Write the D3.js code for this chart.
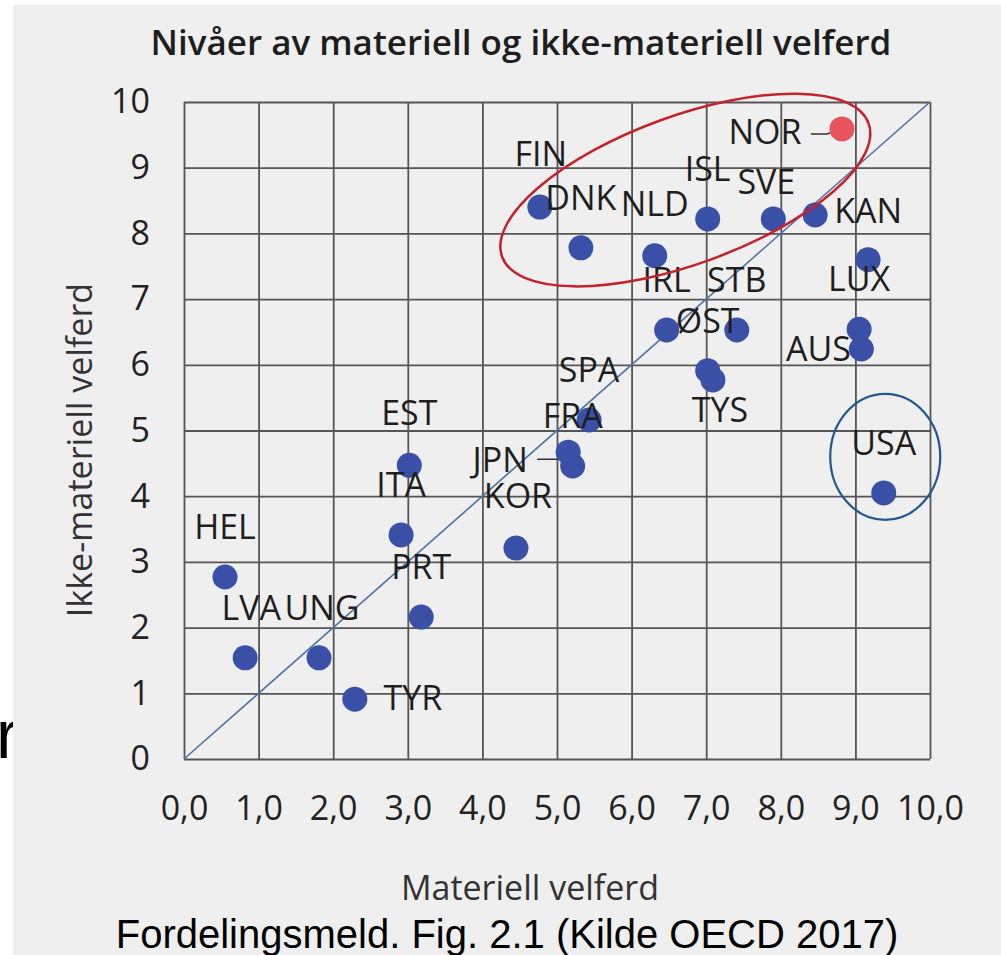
<!DOCTYPE html>
<html>
<head>
<meta charset="utf-8">
<script src="https://cdn.jsdelivr.net/npm/d3@7"></script>
<style>
  body { margin: 0; background: #fff; }
  svg { display: block; }
  .grid line { stroke: #555; stroke-width: 1.8; }
  .grid text { font-family: "Open Sans", sans-serif; font-size: 34px; fill: #222; }
  .lbl { font-family: "Open Sans", sans-serif; font-size: 34px; fill: #1e1e1e; }
</style>
</head>
<body>
<script>
// OECD: materiell vs ikke-materiell velferd (score 0-10)
var codes = ["HEL","LVA","UNG","TYR","ITA","EST","PRT","KOR","JPN","FRA","SPA",
             "FIN","DNK","NLD","ISL","SVE","KAN","NOR","","LUX","IRL","STB","ØST","TYS","AUS","USA"];
var materiell = [0.55,0.82,1.81,2.29,2.91,3.02,3.18,4.45,5.15,5.21,5.43,
                 4.77,5.32,6.31,7.02,7.90,8.46,8.82,9.17,9.05,6.47,7.41,7.02,7.09,9.08,9.38];
var ikkeMateriell = [2.77,1.54,1.54,0.91,3.41,4.47,2.16,3.21,4.67,4.46,5.16,
                     8.40,7.78,7.66,8.22,8.22,8.28,9.59,7.60,6.54,6.53,6.53,5.91,5.77,6.24,4.05];
var xTicks = [0,1,2,3,4,5,6,7,8,9,10];
var yTicks = [0,1,2,3,4,5,6,7,8,9,10];
var xTickLabels = ["0,0","1,0","2,0","3,0","4,0","5,0","6,0","7,0","8,0","9,0","10,0"];
var yTickLabels = ["0","1","2","3","4","5","6","7","8","9","10"];

// label placement (pixels from point), default is centred above
var labelOffset = {
  "TYR": [58, 11], "SVE": [-7, -25], "KAN": [53, 8], "NOR": [-77, 15],
  "TYS": [7, 42], "AUS": [-43, 12], "JPN": [-68, 20], "EST": [0, -40],
  "FIN": [1, -41], "KOR": [2, -40], "NLD": [0, -40], "LVA": [6, -38], "UNG": [3, -38]
};

var W = 1001, H = 955;
var x = d3.scaleLinear().domain([0,10]).range([184,930]);
var y = d3.scaleLinear().domain([0,10]).range([759,102]);

var svg = d3.select("body").append("svg").attr("width",W).attr("height",H);

// stray slide letter on the left edge
svg.append("text").attr("x",-4).attr("y",758)
  .style("font-family","'Liberation Sans', Arial, sans-serif").style("font-size","68px")
  .text("r");
svg.append("rect").attr("x",13).attr("y",5).attr("width",W-13).attr("height",H-5).attr("fill","#efefef");

svg.append("text").attr("x",521).attr("y",55).attr("text-anchor","middle")
  .style("font-family","'Open Sans', sans-serif").style("font-size","35px").style("font-weight","600")
  .style("fill","#1e1e1e")
  .text("Nivåer av materiell og ikke-materiell velferd");

var gx = svg.append("g").attr("class","grid").attr("transform","translate(0,"+y(0)+")")
  .call(d3.axisBottom(x).tickValues(xTicks).tickSize(-(y(0)-y(10))).tickPadding(37)
    .tickFormat(function(d,i){ return xTickLabels[i]; }));
var gy = svg.append("g").attr("class","grid").attr("transform","translate("+x(0)+",0)")
  .call(d3.axisLeft(y).tickValues(yTicks).tickSize(-(x(10)-x(0))).tickPadding(34)
    .tickFormat(function(d,i){ return yTickLabels[i]; }));
svg.selectAll(".grid .domain").remove();

// 45 degree line
svg.append("line").attr("x1",x(0)).attr("y1",y(0)).attr("x2",x(10)).attr("y2",y(10))
  .attr("stroke","#4f73a6").attr("stroke-width",1.6);

svg.append("text").attr("x",530).attr("y",900).attr("text-anchor","middle")
  .style("font-family","'Open Sans', sans-serif").style("font-size","34px").style("fill","#333")
  .text("Materiell velferd");
svg.append("text").attr("transform","translate(92,450) rotate(-90)").attr("text-anchor","middle")
  .style("font-family","'Open Sans', sans-serif").style("font-size","34px").style("fill","#333")
  .text("Ikke-materiell velferd");

var pts = codes.map(function(c,i){ return {code:c, mx:materiell[i], im:ikkeMateriell[i]}; });

// leader lines
var nor = pts[codes.indexOf("NOR")], jpn = pts[codes.indexOf("JPN")];
svg.append("path").attr("fill","none").attr("stroke","#333").attr("stroke-width",1.5)
  .attr("d","M"+(x(nor.mx)-31)+","+(y(nor.im)+5)+"L"+(x(nor.mx)-15)+","+(y(nor.im)+5)+"L"+(x(nor.mx)-4)+","+(y(nor.im)+1));
svg.append("path").attr("fill","none").attr("stroke","#333").attr("stroke-width",1.5)
  .attr("d","M"+(x(jpn.mx)-31)+","+(y(jpn.im)+7)+"L"+(x(jpn.mx)-10)+","+(y(jpn.im)+7)+"L"+(x(jpn.mx)-4)+","+(y(jpn.im)+1));

svg.append("g").selectAll("circle").data(pts).enter().append("circle")
  .attr("cx",function(d){ return x(d.mx); })
  .attr("cy",function(d){ return y(d.im); })
  .attr("r",12.5)
  .attr("fill",function(d){ return d.code=="NOR" ? "#e8545c" : "#3a50a7"; });

svg.append("g").selectAll("text").data(pts.filter(function(d){ return d.code!=""; })).enter().append("text")
  .attr("class","lbl").attr("text-anchor","middle")
  .attr("x",function(d){ var o = labelOffset[d.code] || [0,-38]; return x(d.mx)+o[0]; })
  .attr("y",function(d){ var o = labelOffset[d.code] || [0,-38]; return y(d.im)+o[1]; })
  .text(function(d){ return d.code; });

// highlight rings
svg.append("ellipse").attr("transform","translate("+x(6.72)+","+y(8.66)+") rotate(-20)")
  .attr("rx",195).attr("ry",74).attr("fill","none").attr("stroke","#c4232b").attr("stroke-width",2.5);
svg.append("ellipse").attr("cx",x(9.4)).attr("cy",y(4.6)).attr("rx",55).attr("ry",63)
  .attr("fill","none").attr("stroke","#23588f").attr("stroke-width",2.2);

svg.append("text").attr("x",507).attr("y",948).attr("text-anchor","middle")
  .style("font-family","'Liberation Sans', Arial, sans-serif").style("font-size","40px").style("fill","#000")
  .text("Fordelingsmeld. Fig. 2.1 (Kilde OECD 2017)");
</script>
</body>
</html>
